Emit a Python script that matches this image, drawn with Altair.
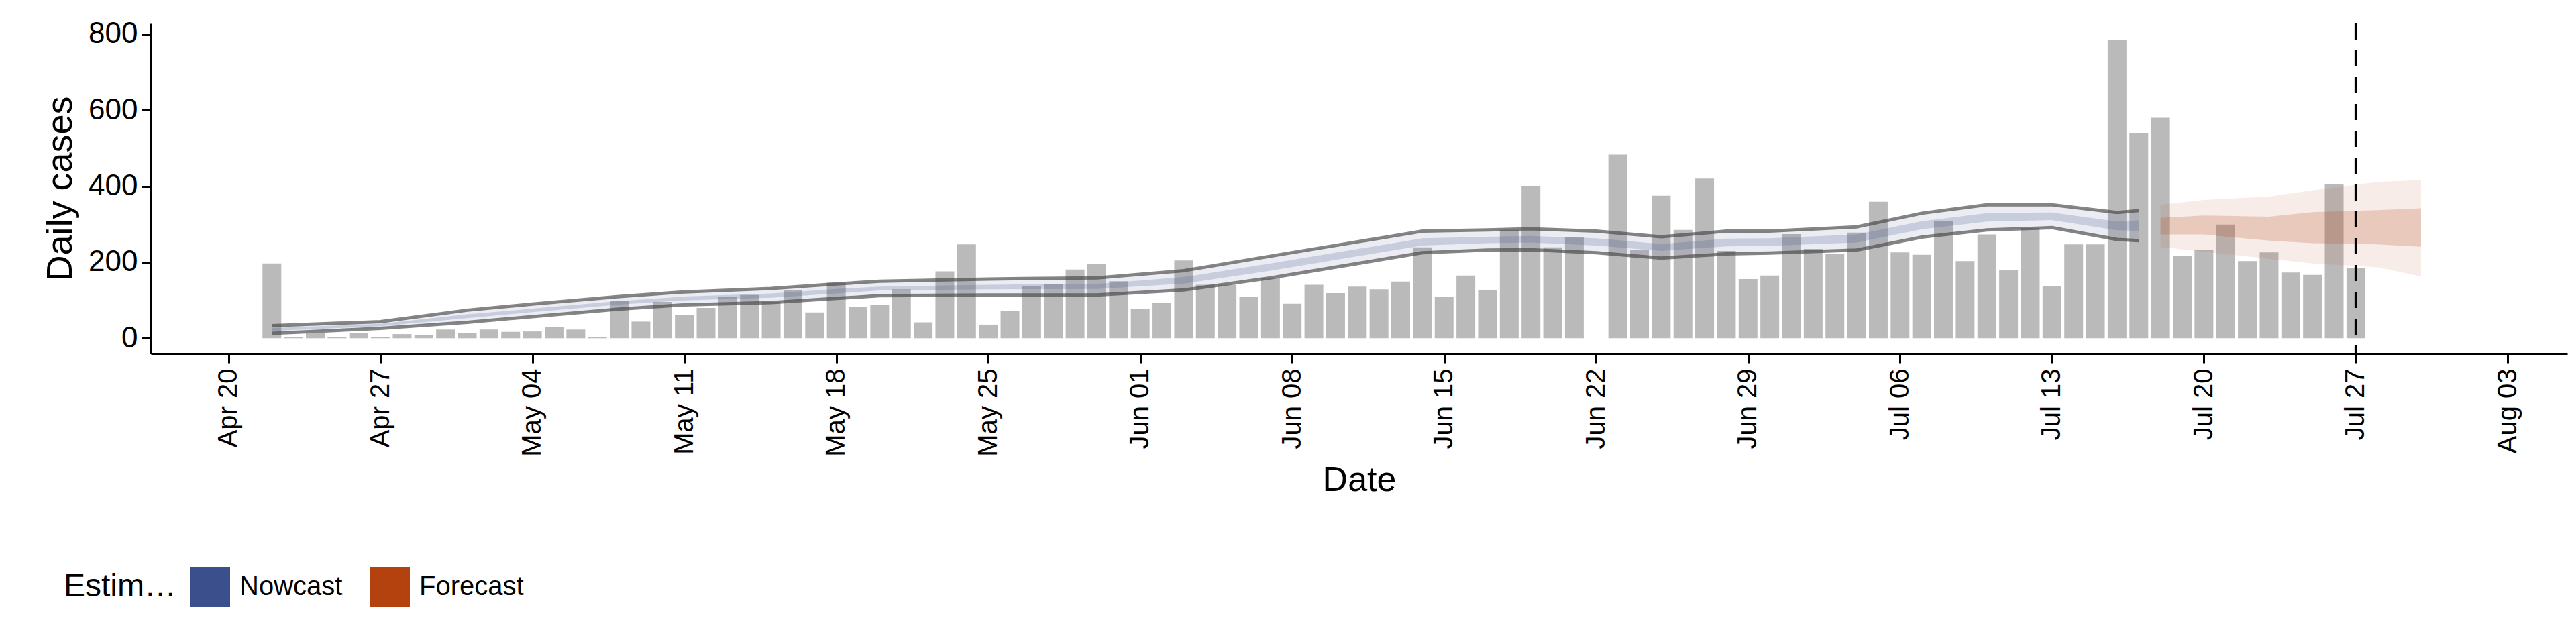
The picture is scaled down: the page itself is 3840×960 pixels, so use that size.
import pandas as pd
import altair as alt

# observed daily cases, Apr 22 .. Jul 27 (Jun 22 missing)
case_start = "2020-04-22"
cases = [197, 4, 14, 4, 13, 3, 11, 9, 23, 13, 23, 17, 18, 30, 23, 4, 99, 44, 96, 61,
         80, 110, 114, 96, 126, 68, 146, 82,
         88, 129, 42, 176, 247, 36, 71, 137, 143, 181, 195, 150, 77, 93, 205, 141, 141,
         110, 159, 91, 141, 119, 136, 129, 149, 239, 108, 165, 126, 285, 401, 239, 265,
         None,
         483, 233, 375, 285, 420, 230,
         156, 165, 274, 235, 222, 278, 359, 226, 220, 308, 203, 273, 179, 290, 138, 247,
         247, 785, 539, 580, 216, 233, 299, 203, 226, 173, 167, 406, 185]

now_dates = ["2020-04-22", "2020-04-27", "2020-05-01", "2020-05-04", "2020-05-08", "2020-05-11",
             "2020-05-15", "2020-05-18", "2020-05-20", "2020-05-25", "2020-05-30", "2020-06-03",
             "2020-06-07", "2020-06-12", "2020-06-14", "2020-06-17", "2020-06-19", "2020-06-22",
             "2020-06-25", "2020-06-28", "2020-06-30", "2020-07-04", "2020-07-07", "2020-07-10",
             "2020-07-13", "2020-07-16", "2020-07-17"]
now_hi90 = [33, 44, 74, 90, 110, 122, 131, 143, 150, 156, 159, 178, 216, 263, 282, 285, 288, 282,
            267, 282, 282, 293, 329, 351, 351, 331, 336]
now_lo90 = [13, 26, 42, 57, 77, 88, 94, 105, 112, 114, 114, 127, 159, 206, 225, 232, 233, 225,
            211, 222, 224, 232, 266, 285, 291, 260, 257]
now_hi50 = [27, 38, 63, 78, 98, 110, 118, 130, 136, 141, 143, 161, 197, 244, 263, 267, 269, 263,
            248, 262, 263, 273, 308, 329, 331, 307, 310]
now_lo50 = [19, 32, 53, 69, 89, 100, 107, 118, 126, 129, 130, 144, 178, 225, 244, 250, 252, 244,
            230, 242, 243, 252, 287, 307, 311, 284, 283]

fc_dates = ["2020-07-18", "2020-07-20", "2020-07-23", "2020-07-25", "2020-07-28", "2020-07-30"]
fc_hi90 = [351, 364, 373, 389, 411, 416]
fc_lo90 = [240, 228, 209, 197, 187, 163]
fc_hi50 = [317, 323, 320, 332, 337, 342]
fc_lo50 = [273, 273, 257, 250, 247, 241]

tick_dates = ["2020-04-20", "2020-04-27", "2020-05-04", "2020-05-11", "2020-05-18", "2020-05-25",
              "2020-06-01", "2020-06-08", "2020-06-15", "2020-06-22", "2020-06-29", "2020-07-06",
              "2020-07-13", "2020-07-20", "2020-07-27", "2020-08-03"]

NOW_COL = "#3A4F8C"
FC_COL = "#B4420F"
FONT = "Liberation Sans"

bars = pd.DataFrame({"date": pd.date_range(case_start, periods=len(cases)).strftime("%Y-%m-%d"),
                     "cases": cases}).dropna()
now = pd.DataFrame({"date": now_dates, "hi90": now_hi90, "lo90": now_lo90,
                    "hi50": now_hi50, "lo50": now_lo50, "Estimate": "Nowcast"})
fc = pd.DataFrame({"date": fc_dates, "hi90": fc_hi90, "lo90": fc_lo90,
                   "hi50": fc_hi50, "lo50": fc_lo50, "Estimate": "Forecast"})
bands = pd.concat([now, fc])

xscale = alt.Scale(type="utc", domain=["2020-04-16T14:00:00", "2020-08-05T14:00:00"])
xaxis = alt.Axis(values=tick_dates, labelExpr="utcFormat(datum.value, '%b %d')", labelAngle=270,
                 labelAlign="right", labelBaseline="middle", grid=False, tickSize=14,
                 tickWidth=3, domainWidth=3, labelFontSize=40, titleFontSize=52,
                 labelPadding=8, labelColor="black", titleColor="black", tickColor="black",
                 domainColor="black", titleFontWeight="normal", titlePadding=10)
yscale = alt.Scale(domain=[-40, 828], nice=False, zero=False)
yaxis = alt.Axis(values=[0, 200, 400, 600, 800], grid=False, tickSize=14, tickWidth=3,
                 domainWidth=3, labelFontSize=44, titleFontSize=54, labelColor="black",
                 titleColor="black", tickColor="black", domainColor="black",
                 titleFontWeight="normal", labelPadding=6, titlePadding=14)
cscale = alt.Scale(domain=["Nowcast", "Forecast"], range=[NOW_COL, FC_COL])
legend = alt.Legend(
    orient="none", legendX=-130, legendY=810, direction="horizontal",
    titleOrient="left", symbolType="square", symbolSize=3600, symbolOpacity=1,
    symbolStrokeWidth=0, labelFontSize=40, titleFontSize=48, titleFontWeight="normal",
    labelFont=FONT, titleFont=FONT, labelColor="black", titleColor="black",
    columnPadding=40, titlePadding=20, labelOffset=14)

bar = alt.Chart(bars).mark_bar(width=28, color="#bababa").encode(
    x=alt.X("date:T", scale=xscale, axis=xaxis, title="Date"),
    y=alt.Y("cases:Q", scale=yscale, axis=yaxis, title="Daily cases"),
)

outer = alt.Chart(bands).mark_area(opacity=0.1).encode(
    x="date:T", y="lo90:Q", y2="hi90:Q",
    color=alt.Color("Estimate:N", scale=cscale, legend=legend),
    detail="Estimate:N",
)
inner = alt.Chart(bands).mark_area(opacity=0.2).encode(
    x="date:T", y="lo50:Q", y2="hi50:Q",
    color=alt.Color("Estimate:N", scale=cscale, legend=legend),
    detail="Estimate:N",
)
edge_hi = alt.Chart(now).mark_line(color="#444444", opacity=0.65, strokeWidth=5).encode(
    x="date:T", y="hi90:Q")
edge_lo = alt.Chart(now).mark_line(color="#444444", opacity=0.65, strokeWidth=5).encode(
    x="date:T", y="lo90:Q")
vline = alt.Chart(pd.DataFrame({"date": ["2020-07-27"]})).mark_rule(
    color="black", strokeWidth=4, strokeDash=[24, 16]).encode(x="date:T")

chart = alt.layer(bar, outer, inner, edge_hi, edge_lo, vline).properties(
    width=3602, height=492, padding={"left": 55, "top": 20, "right": 5, "bottom": 5}
).configure(font=FONT).configure_view(stroke=None)

chart.save("out.html", embed_options={"renderer": "svg", "actions": False})
